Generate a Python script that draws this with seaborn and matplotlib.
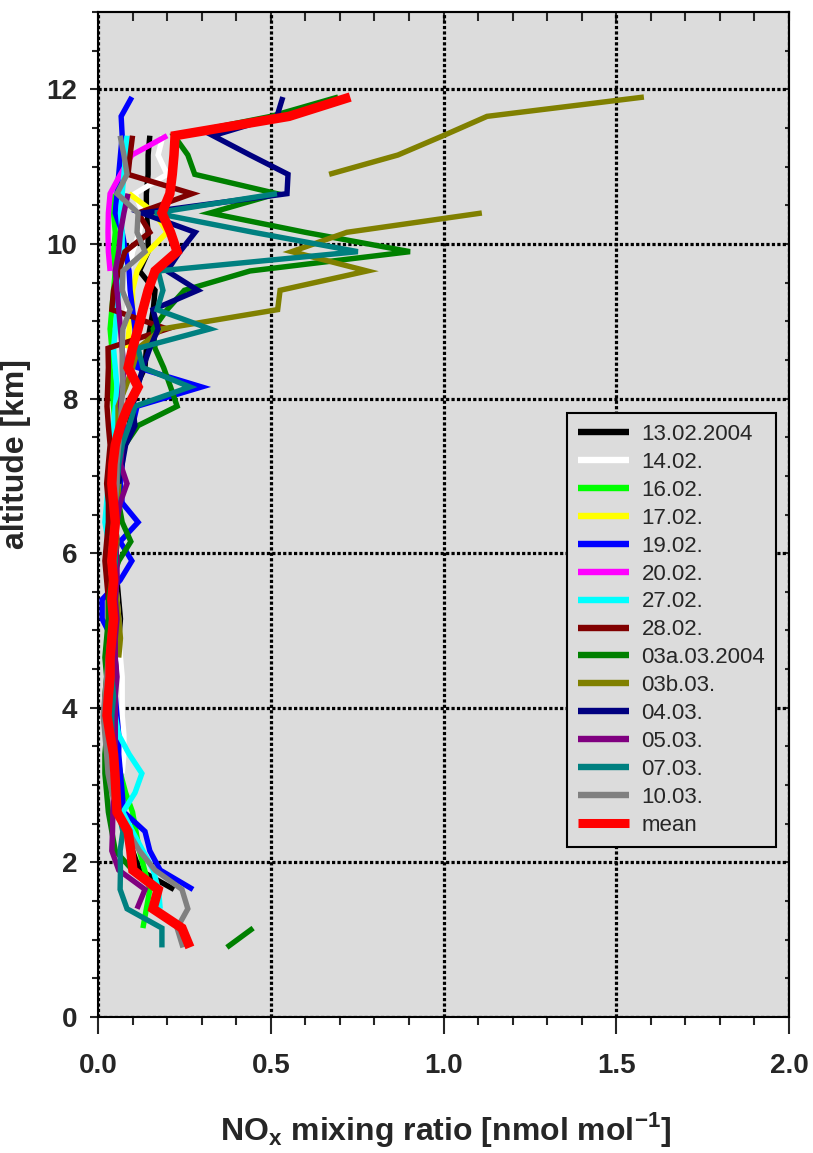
import numpy as np
import pandas as pd
import matplotlib
matplotlib.use("Agg")
import matplotlib.pyplot as plt
from matplotlib.ticker import MultipleLocator, FormatStrFormatter
from matplotlib.lines import Line2D
import seaborn as sns

NA = np.nan

# altitude levels of the profiles [km]
altitude = [0.90, 1.15, 1.40, 1.65, 1.90, 2.15, 2.40, 2.65, 2.90, 3.15,
            3.40, 3.65, 3.90, 4.15, 4.40, 4.65, 4.90, 5.15, 5.40, 5.65,
            5.90, 6.15, 6.40, 6.65, 6.90, 7.15, 7.40, 7.65, 7.90, 8.15,
            8.40, 8.65, 8.90, 9.15, 9.40, 9.65, 9.90, 10.15, 10.40, 10.65,
            10.90, 11.15, 11.40, 11.65, 11.90]

# NOx mixing ratio profiles [nmol/mol], one value per altitude level
nox_1302 = [NA, NA, NA, 0.22, 0.12, 0.10, 0.08, 0.07, 0.06, 0.055,
            0.05, 0.05, 0.045, 0.05, 0.05, 0.055, 0.06, 0.065, 0.06, 0.055,
            0.05, 0.055, 0.05, 0.055, 0.06, 0.065, 0.075, 0.09, 0.10, 0.11,
            0.136, 0.14, 0.15, 0.16, 0.165, 0.12, 0.145, 0.145, 0.14, 0.14,
            0.145, 0.145, 0.15, NA, NA]
nox_1402 = [NA, NA, NA, NA, NA, NA, NA, NA, NA, 0.07,
            0.075, 0.075, 0.07, 0.07, 0.07, 0.065, 0.06, 0.06, 0.055, 0.05,
            0.05, 0.05, 0.055, 0.06, 0.06, 0.055, 0.06, 0.065, 0.07, 0.07,
            0.075, 0.075, 0.08, 0.085, 0.09, 0.09, 0.10, 0.12, 0.13, 0.107,
            0.20, 0.174, 0.188, NA, NA]
nox_1602 = [NA, 0.13, 0.14, 0.15, 0.135, 0.12, 0.11, 0.10, 0.08, 0.065,
            0.055, 0.05, 0.045, 0.04, 0.04, 0.035, 0.035, 0.04, 0.035, 0.04,
            0.045, 0.04, 0.04, 0.045, 0.04, 0.04, 0.045, 0.05, 0.045, 0.04,
            0.035, 0.04, 0.035, 0.04, 0.045, 0.05, 0.045, 0.05, 0.045, 0.04,
            NA, NA, NA, NA, NA]
nox_1702 = [NA, NA, NA, NA, NA, NA, NA, NA, NA, NA,
            NA, NA, NA, NA, NA, NA, NA, NA, NA, NA,
            NA, NA, NA, NA, NA, NA, NA, NA, NA, NA,
            NA, 0.085, 0.09, 0.10, 0.10, 0.113, 0.145, 0.20, 0.165, 0.09,
            NA, NA, NA, NA, NA]
nox_1902 = [NA, NA, NA, 0.275, 0.18, 0.15, 0.136, 0.075, 0.07, 0.065,
            0.06, 0.06, 0.055, 0.05, 0.05, 0.045, 0.04, 0.012, 0.012, 0.064,
            0.098, 0.064, 0.116, 0.07, 0.065, 0.07, 0.075, 0.10, 0.113, 0.30,
            0.115, 0.11, 0.107, 0.10, 0.093, 0.09, 0.08, 0.07, 0.05, 0.055,
            0.06, 0.065, 0.07, 0.067, 0.098]
nox_2002 = [NA, NA, NA, NA, NA, NA, NA, NA, NA, NA,
            NA, NA, NA, NA, NA, NA, NA, NA, NA, NA,
            NA, NA, NA, NA, NA, NA, NA, NA, NA, NA,
            NA, NA, NA, NA, NA, 0.035, 0.03, 0.029, 0.03, 0.035,
            0.065, 0.098, 0.20, NA, NA]
nox_2702 = [NA, NA, 0.18, 0.175, 0.16, 0.13, 0.10, 0.072, 0.107, 0.127,
            0.09, 0.06, 0.05, 0.05, 0.045, 0.045, 0.045, 0.045, 0.04, 0.04,
            0.035, 0.03, 0.02, 0.025, 0.03, 0.035, 0.04, 0.045, 0.05, 0.055,
            0.05, 0.045, 0.05, 0.055, 0.06, 0.065, 0.07, 0.07, 0.065, 0.07,
            0.075, 0.08, 0.084, NA, NA]
nox_2802 = [NA, NA, NA, NA, NA, NA, NA, NA, NA, NA,
            NA, NA, NA, NA, NA, 0.03, 0.035, 0.03, 0.03, 0.025,
            0.02, 0.025, 0.03, 0.03, 0.025, 0.03, 0.035, 0.03, 0.026, 0.028,
            0.03, 0.029, 0.20, 0.04, 0.045, 0.06, 0.078, 0.15, 0.116, 0.272,
            0.087, 0.093, 0.10, NA, NA]
nox_0303a = [0.373, 0.449, NA, NA, 0.10, 0.05, 0.04, 0.03, 0.025, 0.02,
             0.02, 0.025, 0.02, 0.02, 0.025, 0.02, 0.025, 0.03, 0.03, 0.04,
             0.06, 0.095, 0.07, 0.06, 0.06, 0.065, 0.078, 0.116, 0.229, 0.21,
             0.19, 0.165, 0.16, 0.20, 0.25, 0.44, 0.903, 0.60, 0.324, 0.518,
             0.28, 0.26, 0.22, 0.50, 0.695]
nox_0303b = [NA, NA, NA, NA, NA, NA, NA, NA, NA, NA,
             NA, NA, NA, NA, NA, 0.06, 0.065, 0.06, 0.055, 0.05,
             0.05, 0.055, 0.05, 0.055, 0.06, 0.055, 0.06, 0.058, 0.058, 0.08,
             0.10, 0.116, 0.185, 0.52, 0.527, 0.779, 0.561, 0.72, 1.111, NA,
             0.669, 0.868, 0.999, 1.126, 1.58]
nox_0403 = [NA, NA, NA, NA, NA, NA, NA, NA, NA, NA,
            NA, NA, NA, NA, NA, NA, NA, NA, NA, NA,
            NA, NA, NA, NA, 0.06, 0.07, 0.08, 0.107, 0.10, 0.115,
            0.13, 0.15, 0.174, 0.159, 0.289, 0.20, 0.237, 0.281, 0.127, 0.547,
            0.55, 0.44, 0.333, 0.518, 0.535]
nox_0503 = [NA, NA, 0.113, 0.136, 0.06, 0.04, 0.042, 0.043, 0.045, 0.05,
            0.05, 0.05, 0.05, 0.05, 0.055, 0.05, 0.05, 0.055, 0.05, 0.055,
            0.055, 0.05, 0.055, 0.064, 0.084, 0.065, 0.07, 0.075, 0.065, 0.07,
            0.075, 0.07, 0.065, 0.06, 0.055, 0.05, 0.06, 0.065, 0.075, 0.087,
            NA, NA, NA, NA, NA]
nox_0703 = [0.185, 0.185, 0.084, 0.064, 0.065, 0.064, 0.072, 0.06, 0.05, 0.045,
            0.045, 0.04, 0.04, 0.045, 0.04, 0.04, 0.045, 0.045, 0.04, 0.045,
            0.05, 0.05, 0.045, 0.05, 0.055, 0.06, 0.07, 0.09, 0.107, 0.266,
            0.13, 0.116, 0.324, 0.171, 0.188, 0.174, 0.752, 0.45, 0.165, 0.518,
            NA, NA, NA, NA, NA]
nox_1003 = [0.246, 0.229, 0.26, 0.243, 0.165, 0.12, 0.087, 0.06, 0.04, 0.029,
            0.025, 0.02, 0.015, 0.02, 0.025, 0.03, 0.035, 0.04, 0.04, 0.045,
            0.045, 0.05, 0.05, 0.05, 0.055, 0.055, 0.06, 0.065, 0.068, 0.072,
            0.07, 0.07, 0.072, 0.093, 0.07, 0.072, 0.136, 0.113, 0.116, 0.055,
            0.084, 0.075, 0.064, NA, NA]
nox_mean = [0.266, 0.243, 0.159, 0.174, 0.101, 0.095, 0.087, 0.055, 0.052, 0.049,
            0.045, 0.035, 0.026, 0.03, 0.035, 0.035, 0.04, 0.045, 0.04, 0.045,
            0.04, 0.045, 0.05, 0.045, 0.04, 0.043, 0.05, 0.065, 0.087, 0.116,
            0.087, 0.10, 0.116, 0.13, 0.145, 0.165, 0.229, 0.21, 0.185, 0.208,
            0.215, 0.22, 0.223, 0.553, 0.73]

labels = ["13.02.2004", "14.02.", "16.02.", "17.02.", "19.02.", "20.02.",
          "27.02.", "28.02.", "03a.03.2004", "03b.03.", "04.03.", "05.03.",
          "07.03.", "10.03.", "mean"]
profiles = [nox_1302, nox_1402, nox_1602, nox_1702, nox_1902, nox_2002,
            nox_2702, nox_2802, nox_0303a, nox_0303b, nox_0403, nox_0503,
            nox_0703, nox_1003, nox_mean]
colors = ["#000000", "#ffffff", "#00ff00", "#ffff00", "#0000ff", "#ff00ff",
          "#00ffff", "#800000", "#008000", "#808000", "#000080", "#800080",
          "#008080", "#808080", "#ff0000"]

sns.set_style("ticks")
plt.rcParams["font.family"] = ["Liberation Sans", "DejaVu Sans"]
plt.rcParams["mathtext.fontset"] = "custom"
plt.rcParams["mathtext.rm"] = "Liberation Sans"
plt.rcParams["mathtext.bf"] = "Liberation Sans:bold"

W, H = 813, 1153
fig = plt.figure(figsize=(W / 100, H / 100), dpi=100)
fig.patch.set_facecolor("white")
ax = fig.add_axes([98 / W, (H - 1017) / H, (789 - 98) / W, (1017 - 12) / H])
ax.set_facecolor("#dcdcdc")

handles = []
for lab, vals, col in zip(labels, profiles, colors):
    x = np.asarray(vals, dtype=float)
    seg = np.cumsum(np.isnan(x))           # a new segment after each data gap
    df = pd.DataFrame({"nox": x, "alt": altitude, "seg": seg}).dropna()
    lw = 6.8 if lab == "mean" else 3.9
    sns.lineplot(data=df, x="nox", y="alt", units="seg", estimator=None,
                 sort=False, color=col, linewidth=lw, ax=ax, legend=False,
                 solid_joinstyle="miter", solid_capstyle="butt")
    handles.append(Line2D([], [], color=col, lw=6.5 if lab == "mean" else 4.6,
                          solid_capstyle="butt"))

ax.set_xlim(0, 2.0)
ax.set_ylim(0, 13)
ax.set_axisbelow(True)
ax.grid(True, which="major", color="black", linestyle=(0, (1, 0.7)),
        linewidth=2.3)

ax.xaxis.set_major_locator(MultipleLocator(0.5))
ax.xaxis.set_minor_locator(MultipleLocator(0.1))
ax.xaxis.set_major_formatter(FormatStrFormatter("%.1f"))
ax.yaxis.set_major_locator(MultipleLocator(2))
ax.yaxis.set_minor_locator(MultipleLocator(0.5))
ax.yaxis.set_major_formatter(FormatStrFormatter("%d"))

for s in ax.spines.values():
    s.set_visible(True)
    s.set_color("black")
    s.set_linewidth(1.5)

ax.tick_params(axis="x", which="major", direction="out", length=12, width=1.5,
               pad=14, labelsize=20, top=False)
ax.tick_params(axis="x", which="minor", direction="out", length=6, width=1.5,
               top=False)
ax.tick_params(axis="y", which="major", direction="out", length=6, width=1.5,
               pad=9, labelsize=20, right=False)
ax.tick_params(axis="y", which="minor", direction="out", length=4, width=1.5,
               right=False)
for t in ax.get_xticklabels() + ax.get_yticklabels():
    t.set_fontweight("bold")
ax.set_xlabel("")
ax.set_ylabel("")

# inward ticks on the top and right frame
top = ax.secondary_xaxis("top")
top.xaxis.set_major_locator(MultipleLocator(0.5))
top.xaxis.set_minor_locator(MultipleLocator(0.1))
top.tick_params(which="both", direction="in", length=6.5, width=1.5,
                labeltop=False)
top.spines["top"].set_linewidth(1.5)
right = ax.secondary_yaxis("right")
right.yaxis.set_major_locator(MultipleLocator(2))
right.yaxis.set_minor_locator(MultipleLocator(0.5))
right.tick_params(which="both", direction="in", length=3, width=1.5,
                  labelright=False)
right.spines["right"].set_linewidth(1.5)

fig.text(446 / W, 1 - 1140 / H,
         r"NO$_\mathbf{x}$ mixing ratio [nmol mol$^\mathbf{-1}$]",
         ha="center", va="baseline", fontsize=23, fontweight="bold")
fig.text(16 / W, 1 - 454 / H, "altitude [km]", rotation=90,
         ha="center", va="center", fontsize=23, fontweight="bold")

leg = ax.legend(handles, labels, loc="upper left",
                bbox_to_anchor=(567 / W, 1 - 413 / H),
                bbox_transform=fig.transFigure, borderaxespad=0,
                fontsize=16, frameon=True, fancybox=False,
                handlelength=2.3, handletextpad=0.55, labelspacing=0.31,
                borderpad=0.5)
leg.get_frame().set_facecolor("#dcdcdc")
leg.get_frame().set_edgecolor("black")
leg.get_frame().set_linewidth(1.5)
leg.get_frame().set_alpha(1)

fig.savefig("out.png", dpi=100)
